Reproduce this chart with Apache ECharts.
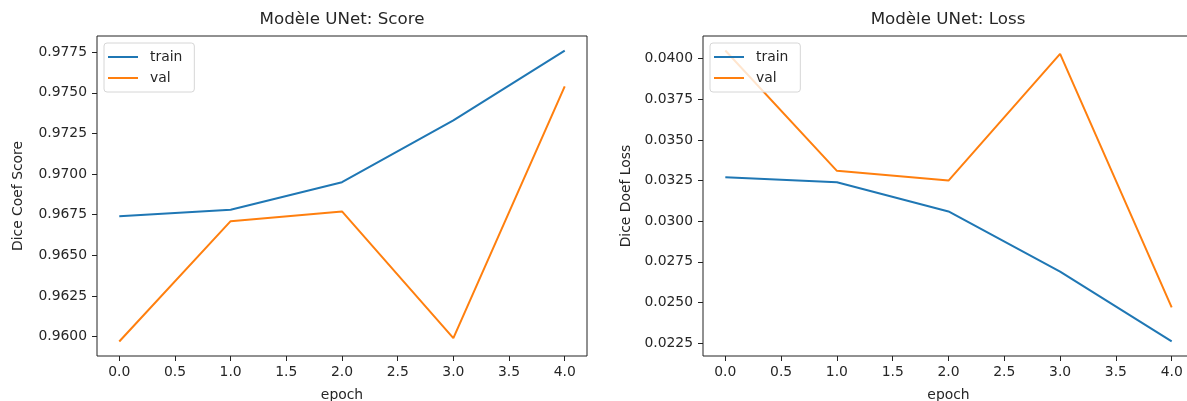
<!DOCTYPE html>
<html>
<head>
<meta charset="utf-8">
<title>Modèle UNet</title>
<script src="https://cdn.jsdelivr.net/npm/echarts@6/dist/echarts.min.js"></script>
<style>
  html, body { margin: 0; padding: 0; background: #fff; }
  #chart { width: 1187px; height: 401px; }
</style>
</head>
<body>
<div id="chart"></div>
<script>
// données
const epochs = [0, 1, 2, 3, 4]
const scoreTrain = [0.9674, 0.9678, 0.9695, 0.9733, 0.9776]
const scoreVal = [0.9597, 0.9671, 0.9677, 0.9599, 0.9754]
const lossTrain = [0.0327, 0.0324, 0.0306, 0.0269, 0.0226]
const lossVal = [0.0405, 0.0331, 0.0325, 0.0403, 0.0247]

const xTicks = [0, 0.5, 1, 1.5, 2, 2.5, 3, 3.5, 4]
const scoreTicks = [0.96, 0.9625, 0.965, 0.9675, 0.97, 0.9725, 0.975, 0.9775]
const lossTicks = [0.0225, 0.025, 0.0275, 0.03, 0.0325, 0.035, 0.0375, 0.04]

const BLUE = '#1f77b4'
const ORANGE = '#ff7f0e'
const FONT = 'DejaVu Sans'
const TXT = '#262626'

// marges à la matplotlib (5 %)
function padRange(arrs) {
  const all = [].concat(...arrs)
  const lo = Math.min(...all)
  const hi = Math.max(...all)
  const m = (hi - lo) * 0.05
  return [lo - m, hi + m]
}

const scoreRange = padRange([scoreTrain, scoreVal])
const lossRange = padRange([lossTrain, lossVal])

function pairs(ys) {
  return epochs.map((x, i) => [x, ys[i]])
}

function xAxisOf(idx) {
  return {
    type: 'value',
    gridIndex: idx,
    min: -0.2,
    max: 4.2,
    name: 'epoch',
    nameLocation: 'middle',
    nameGap: 32,
    nameTextStyle: { fontFamily: FONT, fontSize: 13.9, color: TXT },
    axisLine: { show: false, onZero: false },
    splitLine: { show: false },
    axisTick: { show: true, length: 5, lineStyle: { color: '#222' }, customValues: xTicks },
    axisLabel: {
      margin: 9,
      fontFamily: FONT,
      fontSize: 13.9,
      color: TXT,
      customValues: xTicks,
      formatter: v => v.toFixed(1)
    }
  }
}

function yAxisOf(idx, range, ticks, name, gap) {
  return {
    type: 'value',
    gridIndex: idx,
    min: range[0],
    max: range[1],
    name: name,
    nameLocation: 'middle',
    nameGap: gap,
    nameTextStyle: { fontFamily: FONT, fontSize: 13.9, color: TXT },
    axisLine: { show: false, onZero: false },
    splitLine: { show: false },
    axisTick: { show: true, length: 5, lineStyle: { color: '#222' }, customValues: ticks },
    axisLabel: {
      margin: 10,
      fontFamily: FONT,
      fontSize: 13.9,
      color: TXT,
      customValues: ticks,
      formatter: v => v.toFixed(4)
    }
  }
}

function legendOf(left, idx) {
  return {
    orient: 'vertical',
    left: left,
    top: 43,
    data: [
      { name: 'train' + idx, itemStyle: { color: BLUE } },
      { name: 'val' + idx, itemStyle: { color: ORANGE } }
    ],
    formatter: n => n.replace(/\d$/, ''),
    icon: 'rect',
    itemWidth: 30,
    itemHeight: 2,
    itemGap: 7,
    padding: [7, 12, 7, 4],
    backgroundColor: 'rgba(255,255,255,0.8)',
    borderColor: '#d6d6d6',
    borderWidth: 1,
    borderRadius: 3,
    textStyle: { fontFamily: FONT, fontSize: 13.9, color: TXT, padding: [0, 0, 0, 7] }
  }
}

function lineOf(name, ys, color, idx) {
  return {
    name: name + idx,
    type: 'line',
    xAxisIndex: idx,
    yAxisIndex: idx,
    data: pairs(ys),
    showSymbol: false,
    symbol: 'none',
    lineStyle: { width: 2, color: color },
    itemStyle: { color: color },
    animation: false
  }
}

const chart = echarts.init(document.getElementById('chart'), null, { renderer: 'canvas' })

chart.setOption({
  animation: false,
  backgroundColor: '#fff',
  title: [
    {
      text: 'Modèle UNet: Score',
      left: 342,
      top: 11,
      padding: 0,
      textAlign: 'center',
      textStyle: { fontFamily: FONT, fontSize: 16.7, fontWeight: 'normal', color: TXT }
    },
    {
      text: 'Modèle UNet: Loss',
      left: 948,
      top: 11,
      padding: 0,
      textAlign: 'center',
      textStyle: { fontFamily: FONT, fontSize: 16.7, fontWeight: 'normal', color: TXT }
    }
  ],
  legend: [legendOf(104, 0), legendOf(710, 1)],
  grid: [
    { left: 97, top: 36, width: 490, height: 320, outerBoundsMode: 'none', containLabel: false, show: true, borderColor: '#222', borderWidth: 1, backgroundColor: 'transparent' },
    // le panneau de droite dépasse du cadre dans l'original
    { left: 703, top: 36, width: 491, height: 320, outerBoundsMode: 'none', containLabel: false, show: true, borderColor: '#222', borderWidth: 1, backgroundColor: 'transparent' }
  ],
  xAxis: [xAxisOf(0), xAxisOf(1)],
  yAxis: [
    yAxisOf(0, scoreRange, scoreTicks, 'Dice Coef Score', 72),
    yAxisOf(1, lossRange, lossTicks, 'Dice Doef Loss', 70)
  ],
  series: [
    lineOf('train', scoreTrain, BLUE, 0),
    lineOf('val', scoreVal, ORANGE, 0),
    lineOf('train', lossTrain, BLUE, 1),
    lineOf('val', lossVal, ORANGE, 1)
  ]
})
</script>
</body>
</html>
